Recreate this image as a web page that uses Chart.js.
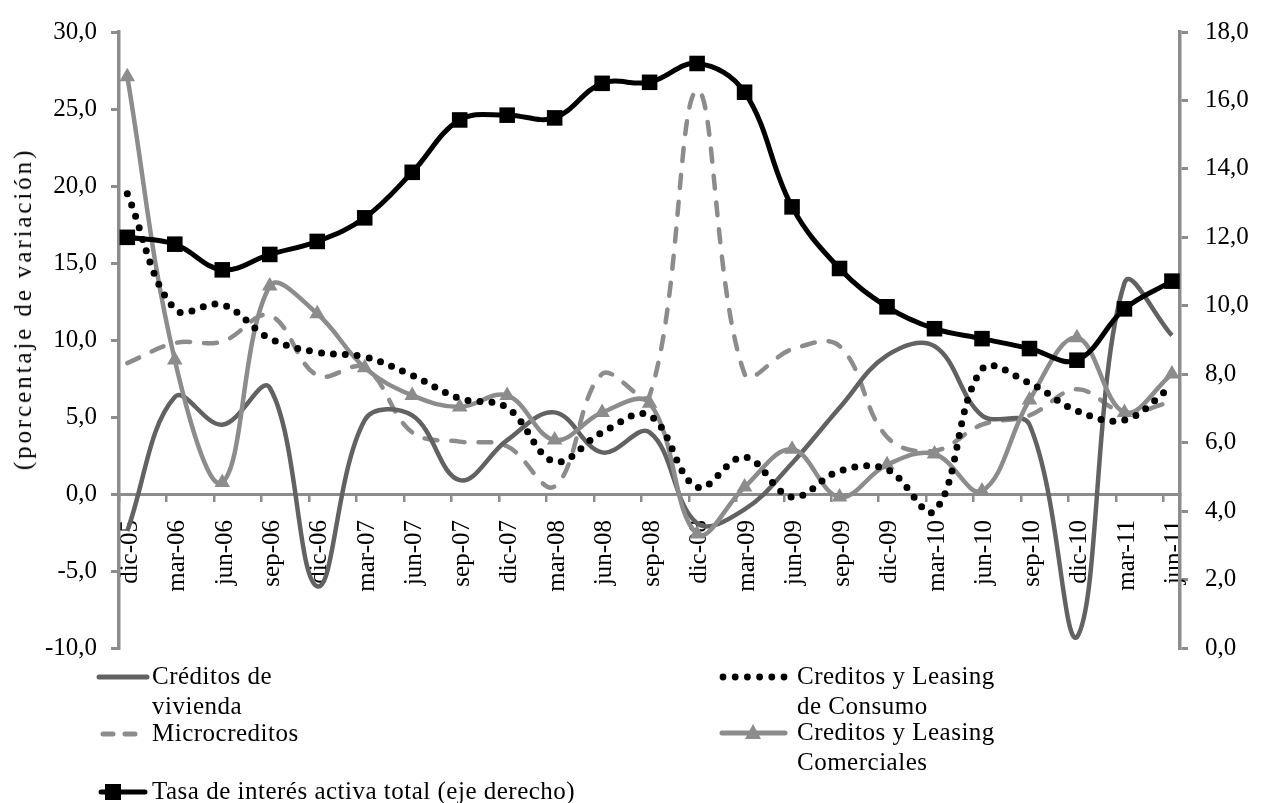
<!DOCTYPE html>
<html><head><meta charset="utf-8">
<script src="https://cdn.jsdelivr.net/npm/chart.js@4.4.0/dist/chart.umd.min.js"></script>
<style>
html,body{margin:0;padding:0;background:#fff;}
#wrap{position:relative;width:1262px;height:803px;overflow:hidden;font-family:"Liberation Serif","Times New Roman",serif;color:#000;}
canvas{position:absolute;left:0;top:0;}
.ytitle{position:absolute;left:23px;top:309px;transform:translate(-50%,-50%) rotate(-90deg);white-space:nowrap;font-size:25px;letter-spacing:2.9px;line-height:28px;}
.leg{position:absolute;font-size:25px;line-height:30px;letter-spacing:0.5px;white-space:nowrap;}
.sw{position:absolute;overflow:visible;}
</style></head><body>
<div id="wrap">
<canvas id="c" width="1262" height="803"></canvas>
<div class="ytitle">(porcentaje de variación)</div>
<div id="legend"></div>
</div>
<script>
// ---- data ----
const categories = ['dic-05','mar-06','jun-06','sep-06','dic-06','mar-07','jun-07','sep-07','dic-07','mar-08','jun-08','sep-08','dic-08','mar-09','jun-09','sep-09','dic-09','mar-10','jun-10','sep-10','dic-10','mar-11','jun-11'];
const vivienda    = [-2.4, 6.3, 4.5, 6.9, -6.0, 4.8, 5.1, 0.9, 3.5, 5.3, 2.7, 4.0, -1.9, -1.0, 2.0, 5.6, 9.0, 9.6, 5.1, 4.5, -9.3, 13.7, 10.3];
const consumo     = [19.5, 12.0, 12.3, 10.1, 9.2, 8.9, 7.7, 6.2, 5.6, 2.1, 4.0, 5.1, 0.45, 2.4, -0.2, 1.5, 1.6, -1.1, 8.1, 7.2, 5.4, 4.8, 7.0];
const micro       = [8.5, 9.8, 9.9, 11.6, 7.7, 8.2, 4.0, 3.4, 3.1, 0.5, 7.8, 6.4, 26.2, 7.8, 9.4, 9.6, 3.7, 2.8, 4.5, 5.1, 6.8, 5.3, 6.0];
const comerciales = [27.1, 8.7, 0.75, 13.5, 11.7, 8.2, 6.4, 5.65, 6.4, 3.5, 5.3, 5.9, -2.6, 0.45, 2.9, -0.2, 1.9, 2.6, 0.2, 6.1, 10.15, 5.3, 7.8];
const tasa        = [12.0, 11.8, 11.05, 11.5, 11.88, 12.57, 13.9, 15.43, 15.57, 15.49, 16.5, 16.53, 17.08, 16.24, 12.89, 11.09, 9.97, 9.33, 9.04, 8.75, 8.41, 9.91, 10.72];
const seriesNames = ['Créditos de vivienda','Creditos y Leasing de Consumo','Microcreditos','Creditos y Leasing Comerciales','Tasa de interés activa total (eje derecho)'];
const leftTicks  = {min:-10, max:30, step:5};
const rightTicks = {min:0, max:18, step:2};

// ---- styles ----
const GRAY = '#8c8c8c', DARK = '#626262';
const FONT = {family:"'Liberation Serif','Times New Roman',serif", size:25};
const T = 0.38;
const pts = arr => arr.map((v,i)=>({x:i, y:v}));
const fmt = v => Number(v).toFixed(1).replace('.', ',');

new Chart(document.getElementById('c'), {
  type:'line',
  data:{datasets:[
    {label:seriesNames[4], data:pts(tasa), yAxisID:'y1', borderColor:'#000', backgroundColor:'#000', borderWidth:5, pointStyle:'rect', pointRadius:11, pointBorderWidth:0, tension:T, order:1},
    {label:seriesNames[1], data:pts(consumo), yAxisID:'y', borderColor:'#000', borderWidth:7, borderDash:[0,12], borderCapStyle:'round', pointRadius:0, tension:T, order:2},
    {label:seriesNames[3], data:pts(comerciales), yAxisID:'y', borderColor:GRAY, backgroundColor:GRAY, borderWidth:4.5, pointStyle:'triangle', pointRadius:9, pointBorderWidth:0, tension:T, order:3},
    {label:seriesNames[0], data:pts(vivienda), yAxisID:'y', borderColor:DARK, borderWidth:4.5, pointRadius:0, tension:T, order:4},
    {label:seriesNames[2], data:pts(micro), yAxisID:'y', borderColor:GRAY, borderWidth:4.5, borderDash:[13,14], borderCapStyle:'round', pointRadius:0, tension:T, order:5}
  ]},
  options:{
    responsive:false, animation:false, devicePixelRatio:1,
    layout:{padding:{top:25,bottom:155,left:0,right:0}},
    plugins:{legend:{display:false}, tooltip:{enabled:false}},
    scales:{
      x:{type:'linear', position:{y:0}, min:-0.175, max:22.17,
        afterFit:s=>{s.height=0;},
        afterBuildTicks:s=>{s.ticks = categories.map((c,i)=>({value:i-0.175}));},
        grid:{drawOnChartArea:false, drawTicks:true, tickLength:6, color:GRAY, lineWidth:2.5},
        border:{display:true, color:GRAY, width:3},
        ticks:{autoSkip:false, minRotation:90, maxRotation:90, padding:20, labelOffset:11, color:'#000', font:FONT,
          callback:(v,i)=>categories[i]}},
      y:{position:'left', min:leftTicks.min, max:leftTicks.max,
        afterFit:s=>{s.width=119;},
        ticks:{stepSize:leftTicks.step, padding:14, color:'#000', font:FONT, callback:fmt},
        grid:{drawOnChartArea:false, tickLength:8, color:GRAY, lineWidth:3},
        border:{color:GRAY, width:3.5}},
      y1:{position:'right', min:rightTicks.min, max:rightTicks.max,
        afterFit:s=>{s.width=82;},
        ticks:{stepSize:rightTicks.step, padding:17, color:'#000', font:FONT, callback:fmt},
        grid:{drawOnChartArea:false, tickLength:8, color:GRAY, lineWidth:3},
        border:{color:GRAY, width:3.5}}
    }
  }
});

// ---- legend (HTML) ----
const leg = document.getElementById('legend');
function add(html){ leg.insertAdjacentHTML('beforeend', html); }
// Créditos de vivienda
add(`<svg class="sw" style="left:95px;top:665px" width="56" height="24"><line x1="4" y1="12" x2="52" y2="12" stroke="${DARK}" stroke-width="5" stroke-linecap="round"/></svg>`);
add(`<div class="leg" style="left:152px;top:661px">Créditos de<br>vivienda</div>`);
// Microcreditos
add(`<svg class="sw" style="left:95px;top:722px" width="56" height="24"><line x1="8" y1="12" x2="50" y2="12" stroke="${GRAY}" stroke-width="5" stroke-linecap="round" stroke-dasharray="10 12"/></svg>`);
add(`<div class="leg" style="left:152px;top:718px">Microcreditos</div>`);
// Tasa
add(`<svg class="sw" style="left:95px;top:780px" width="56" height="24"><line x1="6" y1="12" x2="50" y2="12" stroke="#000" stroke-width="5" stroke-linecap="round"/><rect x="10" y="4" width="16" height="16" fill="#000"/></svg>`);
add(`<div class="leg" style="left:152px;top:776px">${seriesNames[4]}</div>`);
// Consumo
let dots=''; for(let k=0;k<6;k++){dots+=`<circle cx="${8+k*12.2}" cy="12" r="3.4" fill="#000"/>`;}
add(`<svg class="sw" style="left:715px;top:665px" width="80" height="24">${dots}</svg>`);
add(`<div class="leg" style="left:797px;top:661px">Creditos y Leasing<br>de Consumo</div>`);
// Comerciales
add(`<svg class="sw" style="left:715px;top:721px" width="80" height="24"><line x1="7" y1="12" x2="70" y2="12" stroke="${GRAY}" stroke-width="5" stroke-linecap="round"/><polygon points="38,3 46,18 30,18" fill="${GRAY}"/></svg>`);
add(`<div class="leg" style="left:797px;top:717px">Creditos y Leasing<br>Comerciales</div>`);
</script>
</body></html>
